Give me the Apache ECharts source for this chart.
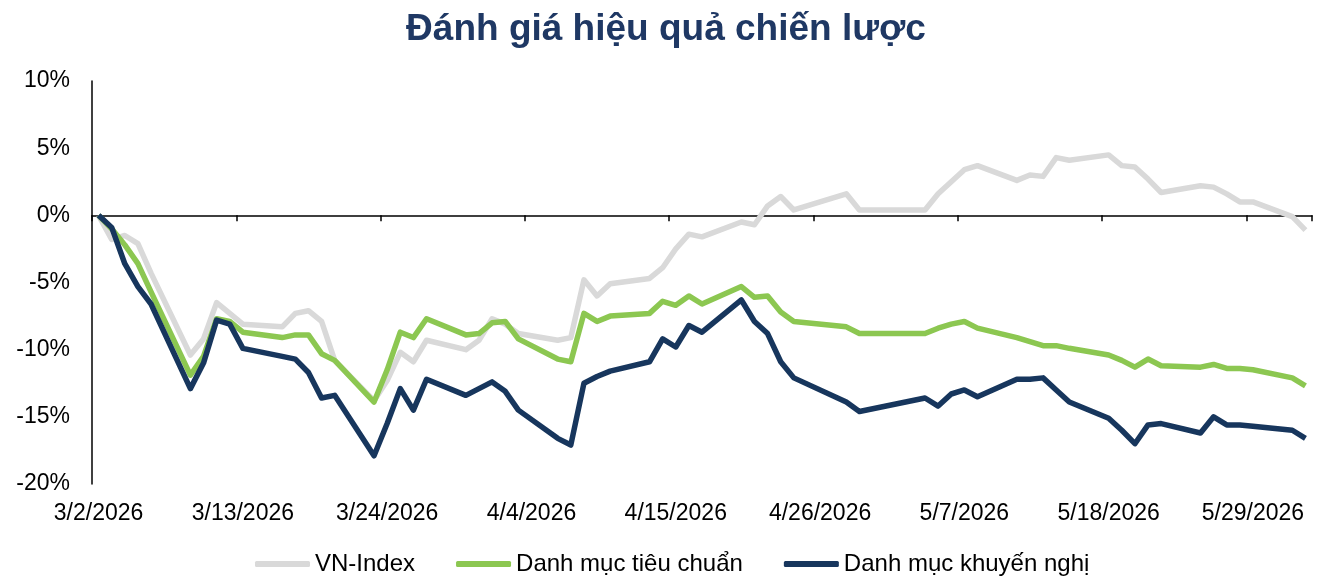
<!DOCTYPE html>
<html>
<head>
<meta charset="utf-8">
<script src="https://cdn.jsdelivr.net/npm/echarts@6/dist/echarts.min.js"></script>
<style>
  html, body { margin: 0; padding: 0; background: #fff; }
  #chart { width: 1332px; height: 579px; }
</style>
</head>
<body>
<div id="chart"></div>
<script>
// ngày giao dịch
var tradingDays = [
  '3/2/2026','3/3/2026','3/4/2026','3/5/2026','3/6/2026',
  '3/9/2026','3/10/2026','3/11/2026','3/12/2026','3/13/2026',
  '3/16/2026','3/17/2026','3/18/2026','3/19/2026','3/20/2026',
  '3/23/2026','3/24/2026','3/25/2026','3/26/2026','3/27/2026',
  '3/30/2026','3/31/2026','4/1/2026','4/2/2026','4/3/2026',
  '4/6/2026','4/7/2026','4/8/2026','4/9/2026','4/10/2026',
  '4/13/2026','4/14/2026','4/15/2026','4/16/2026','4/17/2026',
  '4/20/2026','4/21/2026','4/22/2026','4/23/2026','4/24/2026',
  '4/28/2026','4/29/2026',
  '5/4/2026','5/5/2026','5/6/2026','5/7/2026','5/8/2026',
  '5/11/2026','5/12/2026','5/13/2026','5/14/2026','5/15/2026',
  '5/18/2026','5/19/2026','5/20/2026','5/21/2026','5/22/2026',
  '5/25/2026','5/26/2026','5/27/2026','5/28/2026','5/29/2026',
  '6/1/2026','6/2/2026'
];

var vnIndex = [
  0, -1.8, -1.5, -2.1, -4.3,
  -10.4, -9.2, -6.5, -7.3, -8.1,
  -8.3, -7.3, -7.1, -7.9, -10.8,
  -13.8, -12.3, -10.2, -10.9, -9.3,
  -10.0, -9.3, -7.7, -8.1, -8.8,
  -9.3, -9.1, -4.8, -6.0, -5.1,
  -4.7, -3.9, -2.5, -1.4, -1.6,
  -0.5, -0.7, 0.7, 1.4, 0.4,
  1.6, 0.4,
  0.4, 1.6, 2.5, 3.4, 3.7,
  2.6, 3.0, 2.9, 4.3, 4.1,
  4.5, 3.7, 3.6, 2.7, 1.7,
  2.2, 2.1, 1.6, 1.0, 1.0,
  -0.1, -1.1
];

var danhMucTieuChuan = [
  0, -1.0, -2.2, -3.6, -5.7,
  -11.9, -10.5, -7.7, -7.9, -8.7,
  -9.1, -8.9, -8.9, -10.3, -10.8,
  -13.9, -11.5, -8.7, -9.1, -7.7,
  -8.9, -8.8, -8.0, -7.9, -9.2,
  -10.7, -10.9, -7.3, -7.9, -7.5,
  -7.3, -6.4, -6.7, -6.0, -6.6,
  -5.3, -6.1, -6.0, -7.2, -7.9,
  -8.3, -8.8,
  -8.8, -8.4, -8.1, -7.9, -8.4,
  -9.1, -9.4, -9.7, -9.7, -9.9,
  -10.4, -10.8, -11.3, -10.7, -11.2,
  -11.3, -11.1, -11.4, -11.4, -11.5,
  -12.1, -12.7
];

var danhMucKhuyenNghi = [
  0, -0.9, -3.6, -5.3, -6.6,
  -12.9, -11.0, -7.8, -8.1, -9.9,
  -10.5, -10.7, -11.7, -13.6, -13.4,
  -17.9, -15.5, -12.9, -14.5, -12.2,
  -13.4, -12.9, -12.4, -13.1, -14.5,
  -16.6, -17.1, -12.5, -12.0, -11.6,
  -10.9, -9.2, -9.8, -8.2, -8.7,
  -6.3, -7.9, -8.8, -10.9, -12.1,
  -13.9, -14.6,
  -13.6, -14.2, -13.3, -13.0, -13.5,
  -12.2, -12.2, -12.1, -13.0, -13.9,
  -15.1, -16.0, -17.0, -15.6, -15.5,
  -16.2, -15.0, -15.6, -15.6, -15.7,
  -16.0, -16.6
];

// trục ngày: mọi ngày lịch từ 2/3 đến 2/6
var calendarDays = [];
var day = new Date(2026, 2, 2);
var lastDay = new Date(2026, 5, 2);
while (day <= lastDay) {
  calendarDays.push((day.getMonth() + 1) + '/' + day.getDate() + '/' + day.getFullYear());
  day.setDate(day.getDate() + 1);
}

function pairs(values) {
  return tradingDays.map(function (d, i) { return [d, values[i]]; });
}

var font = 'Liberation Sans, Arial, sans-serif';

var myChart = echarts.init(document.getElementById('chart'));
var option = {
  animation: false,
  backgroundColor: '#fff',
  title: {
    text: 'Đánh giá hiệu quả chiến lược',
    left: 'center',
    top: 6,
    textStyle: { fontFamily: font, fontSize: 37, fontWeight: 'bold', color: '#1F3864' }
  },
  legend: {
    top: 547,
    left: 250,
    icon: 'roundRect',
    itemWidth: 55,
    itemHeight: 6,
    itemGap: 41,
    textStyle: { fontFamily: font, fontSize: 24, color: '#000' },
    data: ['VN-Index', 'Danh mục tiêu chuẩn', 'Danh mục khuyến nghị']
  },
  grid: { left: 92, right: 20, top: 81, bottom: 95 },
  xAxis: [
    {
      type: 'category',
      data: calendarDays,
      boundaryGap: true,
      axisLine: { onZero: true, lineStyle: { color: '#000', width: 1.5 } },
      axisTick: { show: true, interval: 10, length: 6, lineStyle: { color: '#000', width: 1.5 } },
      axisLabel: { show: false },
      splitLine: { show: false }
    },
    {
      type: 'category',
      data: calendarDays,
      position: 'bottom',
      boundaryGap: true,
      axisLine: { show: false, onZero: false },
      axisTick: { show: false },
      axisLabel: { interval: 10, margin: 18, fontFamily: font, fontSize: 23, color: '#000' },
      splitLine: { show: false }
    }
  ],
  yAxis: {
    type: 'value',
    min: -20,
    max: 10,
    interval: 5,
    axisLine: { show: true, lineStyle: { color: '#000', width: 1.5 } },
    axisTick: { show: false },
    splitLine: { show: false },
    axisLabel: { formatter: '{value}%', margin: 22, fontFamily: font, fontSize: 23, color: '#000' }
  },
  series: [
    {
      name: 'VN-Index',
      type: 'line',
      xAxisIndex: 0,
      data: pairs(vnIndex),
      showSymbol: false,
      lineStyle: { width: 5.5, color: '#D9D9D9', join: 'round' },
      itemStyle: { color: '#D9D9D9' }
    },
    {
      name: 'Danh mục tiêu chuẩn',
      type: 'line',
      xAxisIndex: 0,
      data: pairs(danhMucTieuChuan),
      showSymbol: false,
      lineStyle: { width: 5.5, color: '#8CC751', join: 'round' },
      itemStyle: { color: '#8CC751' }
    },
    {
      name: 'Danh mục khuyến nghị',
      type: 'line',
      xAxisIndex: 0,
      data: pairs(danhMucKhuyenNghi),
      showSymbol: false,
      lineStyle: { width: 5.5, color: '#17365D', join: 'round' },
      itemStyle: { color: '#17365D' }
    }
  ]
};
myChart.setOption(option);
</script>
</body>
</html>
